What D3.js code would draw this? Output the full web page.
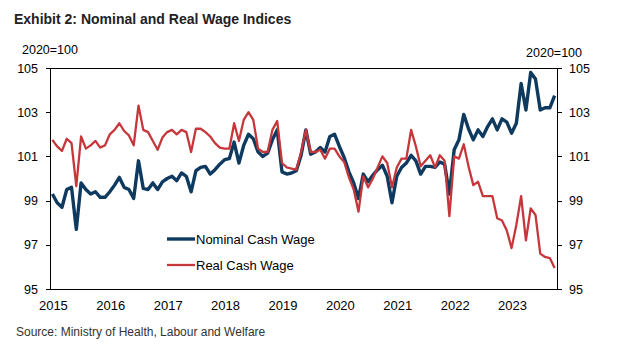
<!DOCTYPE html>
<html>
<head>
<meta charset="utf-8">
<script src="https://cdn.jsdelivr.net/npm/d3@7"></script>
<style>
	body { margin: 0; background: #fff; }
	svg { display: block; font-family: "Liberation Sans", Arial, sans-serif; }
	.title { font-family: "Liberation Sans Narrow", "Arial Narrow", "Liberation Sans", sans-serif; font-weight: bold; font-size: 14px; fill: #222; }
	.unit { font-size: 12.5px; fill: #000; }
	.axis text { font-size: 12.5px; fill: #000; }
	.xlbl { font-size: 13px; fill: #000; }
	.legend text { font-size: 13px; fill: #000; }
	.source { font-size: 12px; fill: #333; }
</style>
</head>
<body>
<svg id="chart" width="618" height="352"></svg>
<script>
// monthly, Jan 2015 - Oct 2023 (index 2020=100)
const yearLabels = ['2015', '2016', '2017', '2018', '2019', '2020', '2021', '2022', '2023'];
const yTicks = [95, 97, 99, 101, 103, 105];

const nominalWage = [
	99.3, 98.9, 98.7, 99.5, 99.6, 97.7, 99.8, 99.5, 99.3, 99.4, 99.15, 99.15,
	99.4, 99.7, 100.05, 99.6, 99.5, 99.1, 100.8, 99.55, 99.5, 99.8, 99.5, 99.85,
	100.0, 100.1, 99.9, 100.25, 100.1, 99.4, 100.35, 100.5, 100.55, 100.2, 100.4, 100.65,
	100.85, 100.9, 101.65, 100.7, 101.5, 102.0, 101.8, 101.2, 101.0, 101.15, 101.75, 102.2,
	100.3, 100.2, 100.25, 100.35, 101.05, 102.2, 101.1, 101.2, 101.4, 101.2, 101.9, 102.0,
	101.45, 100.95, 100.3, 99.8, 99.1, 100.2, 99.85, 100.15, 100.4, 100.6, 100.1, 98.9,
	100.1, 100.5, 100.7, 101.05, 100.8, 100.2, 100.55, 100.55, 100.5, 100.75, 100.65, 99.3,
	101.3, 101.75, 102.9, 102.25, 101.75, 102.2, 101.9, 102.35, 102.7, 102.2, 102.7, 102.55,
	102.05, 102.5, 104.3, 103.1, 104.8, 104.5, 103.1, 103.2, 103.2, 103.75
];

const realWage = [
	101.75, 101.45, 101.25, 101.8, 101.6, 99.65, 101.9, 101.35, 101.5, 101.7, 101.4, 101.5,
	102.0, 102.2, 102.5, 102.15, 101.95, 101.5, 103.3, 102.2, 102.1, 101.7, 101.3, 101.85,
	102.1, 102.2, 102.0, 102.2, 102.1, 101.2, 102.25, 102.25, 102.1, 101.9, 101.6, 101.4,
	101.35, 101.35, 102.5, 101.7, 102.65, 103.0, 102.65, 101.35, 101.2, 101.2, 102.2, 102.6,
	100.7, 100.5, 100.45, 100.4, 101.2, 102.2, 101.2, 101.2, 101.3, 100.9, 101.35, 101.35,
	101.0, 100.75, 100.05, 99.5, 98.5, 100.1, 99.6, 100.0, 100.5, 101.0, 100.7, 99.6,
	100.5, 100.9, 100.9, 102.2, 101.45, 100.55, 100.8, 101.05, 100.5, 101.05, 100.8, 98.3,
	101.0, 100.9, 101.55, 100.55, 99.7, 99.85, 99.2, 99.2, 99.2, 98.2, 98.1, 97.65,
	96.85, 97.9, 99.2, 97.2, 98.65, 98.35, 96.6, 96.45, 96.4, 95.95
];

const series = [
	{ name: 'Nominal Cash Wage', values: nominalWage, color: '#0f3a5f', width: 3.4 },
	{ name: 'Real Cash Wage', values: realWage, color: '#c5373b', width: 2.3 }
];

const svg = d3.select('#chart');
const plot = { x1: 50, x2: 557, y1: 68, y2: 289 };

const months = d3.range(nominalWage.length);

const x = d3.scalePoint()
	.domain(months)
	.range([plot.x1, plot.x2])
	.padding(0.5);

const y = d3.scaleLinear()
	.domain([95, 105])
	.range([plot.y2, plot.y1]);

svg.append('rect').attr('width', 618).attr('height', 352).attr('fill', '#fff');

// title + units
svg.append('text').attr('class', 'title').attr('x', 14).attr('y', 24)
	.text('Exhibit 2: Nominal and Real Wage Indices');
svg.append('text').attr('class', 'unit').attr('x', 22).attr('y', 54).text('2020=100');
svg.append('text').attr('class', 'unit').attr('x', 582).attr('y', 57)
	.attr('text-anchor', 'end').text('2020=100');

// lines
const line = d3.line()
	.x((d, i) => x(i))
	.y(d => y(d));

svg.selectAll('.series')
	.data(series).enter()
	.append('path')
	.attr('class', 'series')
	.attr('d', d => line(d.values))
	.attr('fill', 'none')
	.attr('stroke', d => d.color)
	.attr('stroke-width', d => d.width)
	.attr('stroke-linejoin', 'round');

// frame
svg.append('rect')
	.attr('x', plot.x1).attr('y', plot.y1)
	.attr('width', plot.x2 - plot.x1).attr('height', plot.y2 - plot.y1)
	.attr('fill', 'none').attr('stroke', '#000').attr('stroke-width', 1)
	.attr('shape-rendering', 'crispEdges');

// y axes
const gLeft = svg.append('g').attr('class', 'axis')
	.attr('transform', 'translate(' + plot.x1 + ',0)')
	.call(d3.axisLeft(y).tickValues(yTicks).tickSize(4).tickPadding(8).tickFormat(d3.format('d')));
const gRight = svg.append('g').attr('class', 'axis')
	.attr('transform', 'translate(' + plot.x2 + ',0)')
	.call(d3.axisRight(y).tickValues(yTicks).tickSize(5).tickPadding(7).tickFormat(d3.format('d')));
[gLeft, gRight].forEach(g => {
	g.select('.domain').remove();
	g.selectAll('line').attr('stroke', '#000').attr('shape-rendering', 'crispEdges');
	g.attr('font-family', null).attr('font-size', null);
});

// x labels, one per January
svg.selectAll('.xlbl')
	.data(yearLabels).enter()
	.append('text')
	.attr('class', 'xlbl')
	.attr('x', (d, i) => x(i * 12) + 1)
	.attr('y', 310)
	.attr('text-anchor', 'middle')
	.text(d => d);

// legend
const legend = svg.append('g').attr('class', 'legend');
const legY = [239, 265];
series.forEach((s, i) => {
	legend.append('line')
		.attr('x1', 167).attr('x2', 195)
		.attr('y1', legY[i]).attr('y2', legY[i])
		.attr('stroke', s.color).attr('stroke-width', s.width);
	legend.append('text')
		.attr('x', 196).attr('y', legY[i] + 5)
		.text(s.name);
});

svg.append('text').attr('class', 'source').attr('x', 16).attr('y', 336)
	.text('Source: Ministry of Health, Labour and Welfare');
</script>
</body>
</html>
